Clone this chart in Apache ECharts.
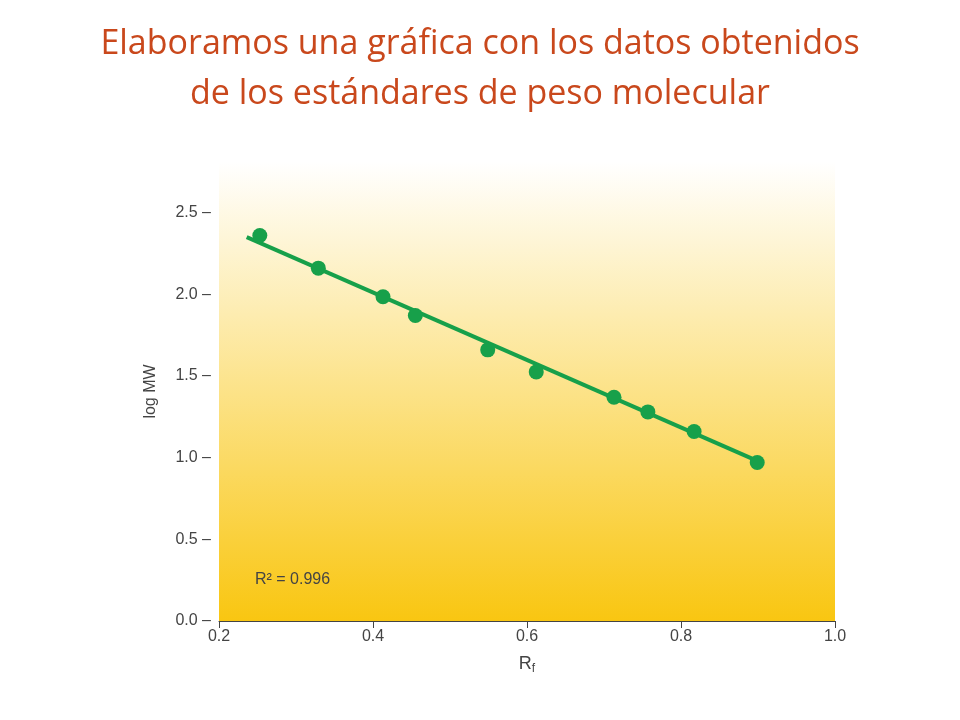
<!DOCTYPE html><html><head><meta charset="utf-8">
<script src="https://cdn.jsdelivr.net/npm/echarts@6/dist/echarts.min.js"></script>
<style>html,body{margin:0;background:#fff}#c{width:960px;height:720px}</style></head><body><div id="c"></div><script>
const rf=[0.253,0.329,0.413,0.455,0.549,0.612,0.713,0.757,0.817,0.899];
const logMW=[2.36,2.16,1.985,1.87,1.66,1.525,1.37,1.28,1.16,0.97];
const fitX=[0.236,0.899];
const fitY=[2.35,0.98];
const chart=echarts.init(document.getElementById('c'));
chart.setOption({
 title:{text:'Elaboramos una gráfica con los datos obtenidos\nde los estándares de peso molecular',left:'center',top:14,
  textStyle:{color:'#c9481c',fontSize:34,fontWeight:'normal',fontFamily:'Open Sans',lineHeight:50}},
 grid:{left:219,right:125,top:162,bottom:99,show:true,borderWidth:0,
  backgroundColor:new echarts.graphic.LinearGradient(0,0,0,1,[{offset:0,color:'#ffffff'},{offset:1,color:'#f9c611'}])},
 xAxis:{type:'value',min:0.2,max:1.0,interval:0.2,name:'{a|R}{b|f}',nameLocation:'middle',nameGap:32,
  nameTextStyle:{rich:{a:{fontSize:18,color:'#444',fontFamily:'Liberation Sans'},b:{fontSize:12,color:'#444',fontFamily:'Liberation Sans',verticalAlign:'bottom',padding:[10,0,0,0]}}},
  axisLine:{lineStyle:{color:'#444'}},axisTick:{lineStyle:{color:'#444'},length:7},splitLine:{show:false},
  axisLabel:{color:'#444',fontSize:16,fontFamily:'Liberation Sans',formatter:v=>v.toFixed(1)}},
 yAxis:{type:'value',min:0,max:2.81,interval:0.5,name:'log MW',nameLocation:'middle',nameGap:60,
  nameTextStyle:{fontSize:16,color:'#444',fontFamily:'Liberation Sans'},
  axisLine:{show:false},axisTick:{show:false},splitLine:{show:false},
  axisLabel:{color:'#444',fontSize:16,fontFamily:'Liberation Sans',showMaxLabel:false,formatter:v=>v.toFixed(1)+' –'}},
 graphic:[{type:'text',left:255,top:572,style:{text:'R² = 0.996',fontSize:16,fill:'#444',fontFamily:'Liberation Sans'}}],
 series:[
  {type:'line',data:fitX.map((x,i)=>[x,fitY[i]]),showSymbol:false,lineStyle:{color:'#17a04a',width:4},z:2},
  {type:'scatter',data:rf.map((x,i)=>[x,logMW[i]]),symbolSize:15,itemStyle:{color:'#17a04a',opacity:1},z:3}
 ]
});
</script></body></html>
